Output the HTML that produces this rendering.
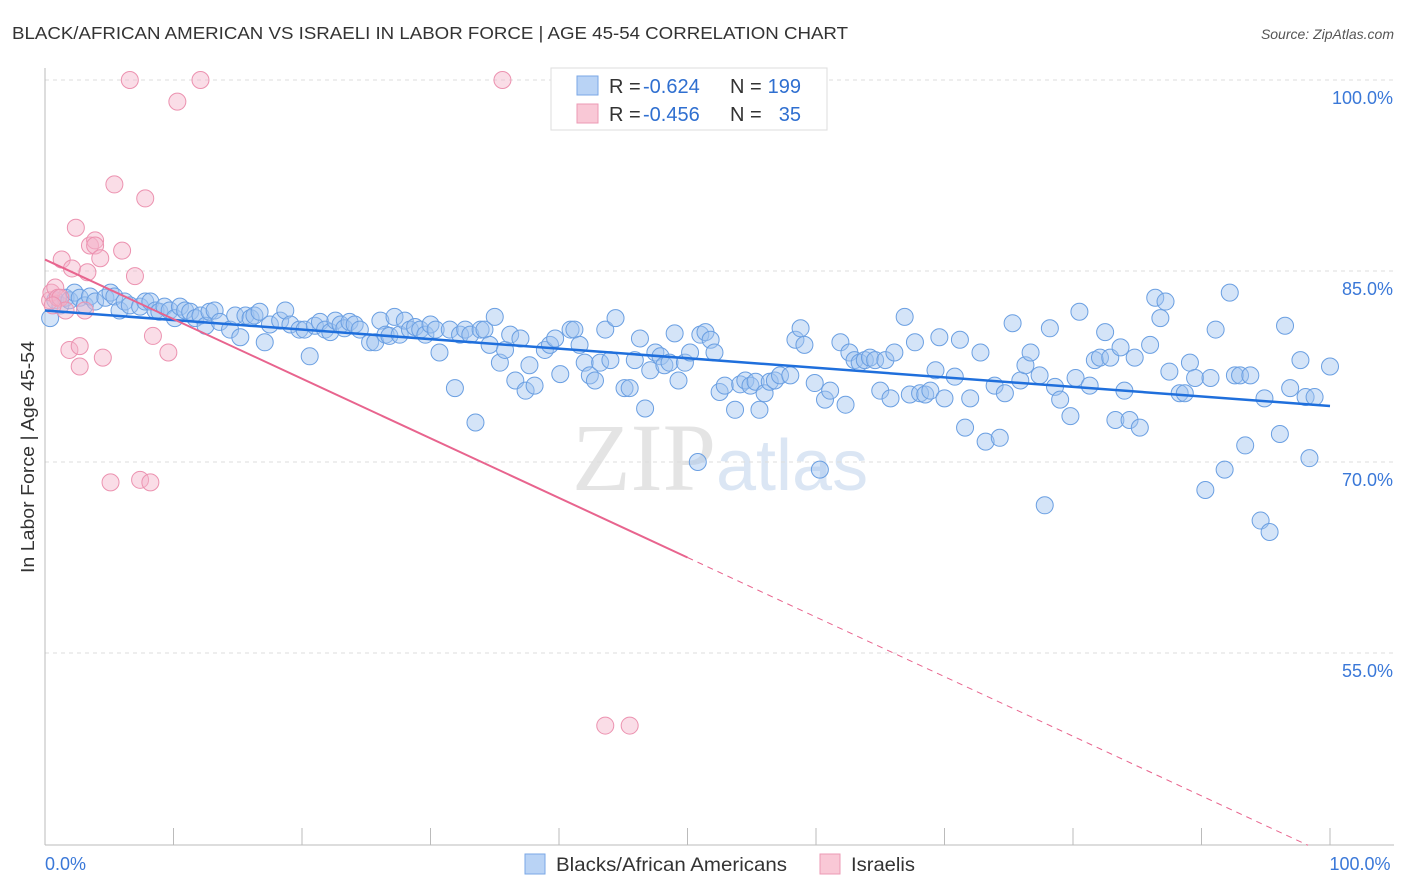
<!DOCTYPE html>
<html><head><meta charset="utf-8"><style>
body{margin:0;background:#fff;font-family:"Liberation Sans",sans-serif;}
svg{display:block}
</style></head><body>
<svg id="chart" width="1406" height="892">
<text x="12" y="39" font-size="17.5" fill="#333" textLength="836" lengthAdjust="spacingAndGlyphs">BLACK/AFRICAN AMERICAN VS ISRAELI IN LABOR FORCE | AGE 45-54 CORRELATION CHART</text>
<text x="1394" y="39" font-size="14" fill="#555" font-style="italic" text-anchor="end">Source: ZipAtlas.com</text>
<text x="716" y="490" font-size="96" fill="#e4e4e4" font-family="Liberation Serif,serif" text-anchor="end">ZIP</text>
<text x="716" y="490" font-size="72" fill="#dbe6f4">atlas</text>
<g id="grid"></g>
<g id="axes"></g>
<g id="marks"></g>
<text transform="translate(34,457) rotate(-90)" font-size="18" fill="#333" text-anchor="middle" textLength="232" lengthAdjust="spacingAndGlyphs">In Labor Force | Age 45-54</text>
<g>
<rect x="551" y="68" width="276" height="62" fill="#fff" stroke="#ddd"/>
<rect x="577" y="76" width="21" height="19" fill="#b9d3f5" stroke="#7aa7e6"/>
<rect x="577" y="104" width="21" height="19" fill="#f9c8d6" stroke="#ec9ab4"/>
<text x="609" y="93" font-size="20" fill="#333">R =</text>
<text x="643" y="93" font-size="20" fill="#2f6fd0">-0.624</text>
<text x="730" y="93" font-size="20" fill="#333">N =</text>
<text x="801" y="93" font-size="20" fill="#2f6fd0" text-anchor="end">199</text>
<text x="609" y="121" font-size="20" fill="#333">R =</text>
<text x="643" y="121" font-size="20" fill="#2f6fd0">-0.456</text>
<text x="730" y="121" font-size="20" fill="#333">N =</text>
<text x="801" y="121" font-size="20" fill="#2f6fd0" text-anchor="end">35</text>
</g>
<g>
<rect x="525" y="854" width="20" height="20" fill="#b9d3f5" stroke="#7aa7e6"/>
<text x="556" y="871" font-size="19.5" fill="#333" textLength="231" lengthAdjust="spacingAndGlyphs">Blacks/African Americans</text>
<rect x="820" y="854" width="20" height="20" fill="#f9c8d6" stroke="#ec9ab4"/>
<text x="851" y="871" font-size="19.5" fill="#333" textLength="64" lengthAdjust="spacingAndGlyphs">Israelis</text>
</g>
</svg>
<script>
const yTicks=[100,85,70,55];
const yTickLabels=["100.0%","85.0%","70.0%","55.0%"];
const xTickLabels=["0.0%","100.0%"];
const bx=[0.4,0.8,1.2,1.6,1.9,2.3,2.7,3.1,3.5,3.9,4.7,5.1,5.4,5.8,6.2,6.6,7.4,7.8,8.2,8.6,8.9,9.3,9.7,10.1,10.5,10.9,11.3,11.7,12.1,12.5,12.8,13.2,13.6,14.4,14.8,15.2,15.6,16.0,16.3,16.7,17.1,17.5,18.3,18.7,19.1,19.8,20.2,20.6,21.0,21.4,21.8,22.2,22.6,23.0,23.3,23.7,24.1,24.5,25.3,25.7,26.1,26.5,26.8,27.2,27.6,28.0,28.4,28.8,29.2,29.6,30.0,30.4,30.7,31.5,31.9,32.3,32.7,33.1,33.5,33.9,34.2,34.6,35.0,35.4,35.8,36.2,36.6,37.0,37.4,37.7,38.1,38.9,39.3,39.7,40.1,40.9,41.2,41.6,42.0,42.4,42.8,43.2,43.6,44.0,44.4,45.1,45.5,45.9,46.3,46.7,47.1,47.5,47.9,48.2,48.6,49.0,49.3,49.8,50.2,50.8,51.0,51.4,51.8,52.1,52.5,52.9,53.7,54.1,54.5,54.9,55.3,55.6,56.0,56.4,56.8,57.2,58.0,58.4,58.8,59.1,59.9,60.3,60.7,61.1,61.9,62.3,62.6,63.0,63.4,63.8,64.2,64.6,65.0,65.4,65.8,66.1,66.9,67.3,67.7,68.1,68.5,68.9,69.3,69.6,70.0,70.8,71.2,71.6,72.0,72.8,73.2,73.9,74.3,74.7,75.3,75.9,76.3,76.7,77.4,77.8,78.2,78.6,79.0,79.8,80.2,80.5,81.3,81.7,82.1,82.5,82.9,83.3,83.7,84.0,84.4,84.8,85.2,86.0,86.4,86.8,87.2,87.5,88.3,88.7,89.1,89.5,90.3,90.7,91.1,91.8,92.2,92.6,93.0,93.4,93.8,94.6,94.9,95.3,96.1,96.5,96.9,97.7,98.1,98.4,98.8,100];
const by=[81.3,82.7,82.3,82.9,82.7,83.3,82.9,82.3,83.0,82.6,82.9,83.3,83.0,81.9,82.6,82.3,82.2,82.6,82.6,81.9,81.8,82.2,81.9,81.3,82.2,81.9,81.8,81.3,81.5,80.7,81.8,81.9,81.0,80.4,81.5,79.8,81.5,81.3,81.5,81.8,79.4,80.8,81.1,81.9,80.8,80.4,80.4,78.3,80.7,81.0,80.4,80.2,81.1,80.8,80.5,81.0,80.8,80.4,79.4,79.4,81.1,80.0,79.9,81.4,80.0,81.1,80.4,80.6,80.4,80.0,80.8,80.4,78.6,80.4,75.8,80.0,80.4,80.0,73.1,80.4,80.4,79.2,81.4,77.8,78.8,80.0,76.4,79.7,75.6,77.6,76.0,78.8,79.2,79.7,76.9,80.4,80.4,79.2,77.8,76.8,76.4,77.8,80.4,78.0,81.3,75.8,75.8,78.0,79.7,74.2,77.2,78.6,78.3,77.6,77.8,80.1,76.4,77.8,78.6,70.0,80.0,80.2,79.6,78.6,75.5,76.0,74.1,76.1,76.4,76.0,76.3,74.1,75.4,76.3,76.4,76.8,76.8,79.6,80.5,79.2,76.2,69.4,74.9,75.6,79.4,74.5,78.6,78.0,77.8,78.0,78.2,78.0,75.6,78.0,75.0,78.6,81.4,75.3,79.4,75.4,75.3,75.6,77.2,79.8,75.0,76.7,79.6,72.7,75.0,78.6,71.6,76.0,71.9,75.4,80.9,76.4,77.6,78.6,76.8,66.6,80.5,75.9,74.9,73.6,76.6,81.8,76.0,78.0,78.2,80.2,78.2,73.3,79.0,75.6,73.3,78.2,72.7,79.2,82.9,81.3,82.6,77.1,75.4,75.4,77.8,76.6,67.8,76.6,80.4,69.4,83.3,76.8,76.8,71.3,76.8,65.4,75.0,64.5,72.2,80.7,75.8,78.0,75.1,70.3,75.1,77.5];
const px=[0.4,0.5,0.8,1.0,1.2,1.3,1.6,1.9,2.1,2.4,2.7,2.7,3.1,3.3,3.5,3.9,3.9,4.3,4.5,5.1,5.4,6.0,6.6,7.0,7.4,7.8,8.2,8.4,9.6,10.3,12.1,35.6,43.6,45.5,0.6];
const py=[82.7,83.3,83.7,82.9,82.9,85.9,81.9,78.8,85.2,88.4,77.5,79.1,81.9,84.9,87.0,87.4,87.0,86.0,78.2,68.4,91.8,86.6,100,84.6,68.6,90.7,68.4,79.9,78.6,98.3,100,100,49.3,49.3,82.3];
const blueTrend=[81.9,74.4];
const pinkTrend=[85.9,62.5];
const pinkSolidEnd=50;

const X0=45,X1=1330,YTOP=80,PXPER=12.733,YMIN=39.9;
const xs=v=>X0+(X1-X0)*v/100;
const ys=v=>YTOP+(100-v)*PXPER;
const NS="http://www.w3.org/2000/svg";
function mk(tag,attrs,parent){const e=document.createElementNS(NS,tag);for(const k in attrs)e.setAttribute(k,attrs[k]);document.getElementById(parent).appendChild(e);return e;}

yTicks.forEach((t,i)=>{
 const g=mk('line',{x1:45,x2:1394,y1:ys(t),y2:ys(t),stroke:'#ddd','stroke-dasharray':'4,4'},'grid');
 
 
 const l=mk('text',{x:1393,y:ys(t)+24,'font-size':18,fill:'#3a78d8','text-anchor':'end'},'axes');
 l.textContent=yTickLabels[i];
 
 
});
const ax=mk('line',{x1:45,x2:45,y1:68,y2:845,stroke:'#bbb'},'axes');


const bxl=mk('line',{x1:45,x2:1394,y1:845,y2:845,stroke:'#bbb'},'axes');


for(let i=0;i<=10;i++){
 const t=mk('line',{x1:xs(i*10),x2:xs(i*10),y1:828,y2:845,stroke:'#bbb'},'axes');
 
 
}
[[0,'start'],[100,'middle']].forEach((a,i)=>{
 const l=mk('text',{x:i?1360:45,y:870,'font-size':18,fill:'#3a78d8','text-anchor':a[1]},'axes');
 l.textContent=xTickLabels[i];
 
 
});
bx.forEach((v,i)=>{
 const c=mk('circle',{cx:xs(v),cy:ys(by[i]),r:8.5,fill:'rgba(160,196,240,0.45)',stroke:'#6a9fe2','stroke-width':1},'marks');
 
 
});
px.forEach((v,i)=>{
 const c=mk('circle',{cx:xs(v),cy:ys(py[i]),r:8.5,fill:'rgba(245,180,202,0.45)',stroke:'#ec92b0','stroke-width':1},'marks');
 
 
});
const bt=mk('line',{x1:xs(0),y1:ys(blueTrend[0]),x2:xs(100),y2:ys(blueTrend[1]),stroke:'#1f6fdc','stroke-width':2.5},'marks');


const slope=(pinkTrend[1]-pinkTrend[0])/pinkSolidEnd;
const pt=mk('line',{x1:xs(0),y1:ys(pinkTrend[0]),x2:xs(pinkSolidEnd),y2:ys(pinkTrend[1]),stroke:'#e8648e','stroke-width':2},'marks');


const xEnd=Math.min(100,(YMIN-pinkTrend[0])/slope);
const pd=mk('line',{x1:xs(pinkSolidEnd),y1:ys(pinkTrend[1]),x2:xs(xEnd),y2:ys(pinkTrend[0]+slope*xEnd),stroke:'#e8648e','stroke-width':1,'stroke-dasharray':'6,5'},'marks');


</script>
</body></html>
